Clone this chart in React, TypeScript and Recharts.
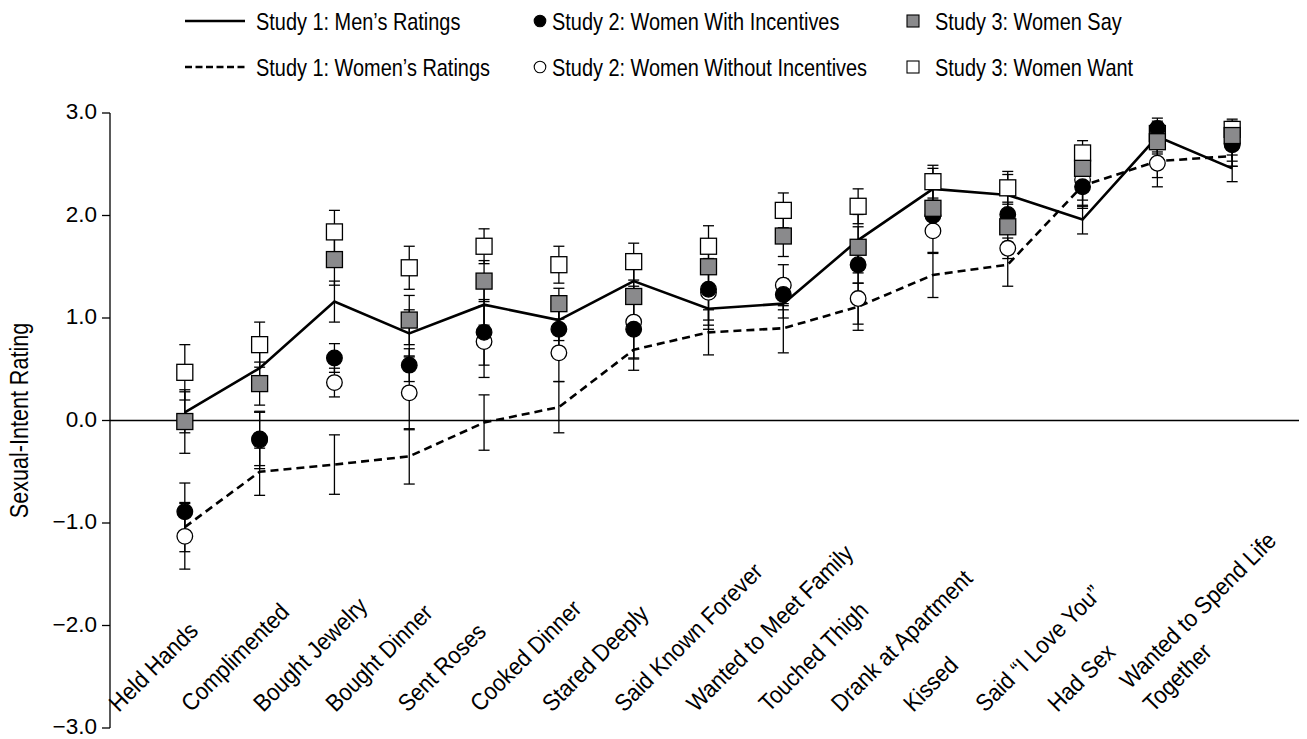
import React from "react";
import { ComposedChart, Line, XAxis, YAxis, ErrorBar, ReferenceLine } from "recharts";

// ---- data -------------------------------------------------------------
const categories = [
  "Held Hands",
  "Complimented",
  "Bought Jewelry",
  "Bought Dinner",
  "Sent Roses",
  "Cooked Dinner",
  "Stared Deeply",
  "Said Known Forever",
  "Wanted to Meet Family",
  "Touched Thigh",
  "Drank at Apartment",
  "Kissed",
  "Said \u201CI Love You\u201D",
  "Had Sex",
  "Wanted to Spend Life\nTogether",
];

// Study 1
const menRatings = [0.08, 0.51, 1.16, 0.85, 1.13, 0.98, 1.36, 1.09, 1.14, 1.76, 2.26, 2.2, 1.96, 2.77, 2.46];
const menErr = [0.2, 0.2, 0.2, 0.23, 0.2, 0.2, 0.15, 0.2, 0.14, 0.25, 0.2, 0.2, 0.14, 0.15, 0.13];
const womenRatings = [-1.04, -0.5, -0.43, -0.35, -0.02, 0.13, 0.69, 0.86, 0.9, 1.11, 1.42, 1.52, 2.29, 2.53, 2.58];
const womenErr = [0.24, 0.23, 0.29, 0.27, 0.27, 0.25, 0.2, 0.22, 0.24, 0.23, 0.22, 0.21, 0.22, 0.25, 0.1];

// Study 2
const withIncentives = [-0.89, -0.18, 0.61, 0.54, 0.86, 0.89, 0.89, 1.28, 1.23, 1.52, 2.0, 2.01, 2.28, 2.85, 2.69];
const withIncentivesErr = [0.28, 0.26, 0.14, 0.16, 0.32, 0.25, 0.29, 0.3, 0.15, 0.18, 0.15, 0.12, 0.19, 0.1, 0.16];
const withoutIncentives = [-1.13, -0.19, 0.37, 0.27, 0.77, 0.66, 0.96, 1.25, 1.32, 1.19, 1.85, 1.68, 2.35, 2.51, 2.7];
const withoutIncentivesErr = [0.32, 0.28, 0.14, 0.36, 0.35, 0.28, 0.35, 0.32, 0.2, 0.25, 0.22, 0.1, 0.2, 0.14, 0.22];

// Study 3
const womenSay = [-0.01, 0.36, 1.57, 0.98, 1.36, 1.14, 1.21, 1.5, 1.8, 1.69, 2.07, 1.89, 2.46, 2.72, 2.78];
const womenSayErr = [0.31, 0.21, 0.25, 0.24, 0.2, 0.15, 0.28, 0.2, 0.2, 0.2, 0.2, 0.15, 0.15, 0.12, 0.12];
const womenWant = [0.47, 0.74, 1.84, 1.49, 1.7, 1.52, 1.55, 1.7, 2.05, 2.09, 2.33, 2.27, 2.61, 2.8, 2.84];
const womenWantErr = [0.27, 0.22, 0.21, 0.21, 0.17, 0.18, 0.18, 0.2, 0.17, 0.17, 0.16, 0.16, 0.12, 0.1, 0.1];

const yTicks = [-3, -2, -1, 0, 1, 2, 3];

const legendNames = [
  "Study 1: Men\u2019s Ratings",
  "Study 1: Women\u2019s Ratings",
  "Study 2: Women With Incentives",
  "Study 2: Women Without Incentives",
  "Study 3: Women Say",
  "Study 3: Women Want",
];

const rows = categories.map((name, i) => ({
  x: i + 1,
  name,
  men: menRatings[i],
  menErr: menErr[i],
  women: womenRatings[i],
  womenErr: womenErr[i],
  withInc: withIncentives[i],
  withIncErr: withIncentivesErr[i],
  withoutInc: withoutIncentives[i],
  withoutIncErr: withoutIncentivesErr[i],
  say: womenSay[i],
  sayErr: womenSayErr[i],
  want: womenWant[i],
  wantErr: womenWantErr[i],
}));

// ---- styling ----------------------------------------------------------
const FONT = "'Liberation Sans', Arial, Helvetica, sans-serif";
const CHART_W = 1307;
const CHART_H = 739;
const GRAY = "#8a8a8c";
const CAP = 5.5;
const BAR_W = 1.3;
// horizontal squeeze that gives the condensed lettering
const NARROW = 0.83;
const LABEL_NARROW = 0.91;

const fmtTick = (v: number) => (v < 0 ? "\u2212" + Math.abs(v).toFixed(1) : v.toFixed(1));

const circleDot = (fill: string) => (p: any) => {
  const { cx, cy, index } = p;
  if (cx == null || cy == null) return <g key={`c-${fill}-${index}`} />;
  return <circle key={`c-${fill}-${index}`} cx={cx} cy={cy} r={7.8} fill={fill} stroke="#000" strokeWidth={1.3} />;
};

const squareDot = (fill: string) => (p: any) => {
  const { cx, cy, index } = p;
  if (cx == null || cy == null) return <g key={`s-${fill}-${index}`} />;
  return (
    <rect key={`s-${fill}-${index}`} x={cx - 8} y={cy - 8} width={16} height={16} fill={fill} stroke="#000" strokeWidth={1.3} />
  );
};

function CategoryTick(props: any) {
  const { x, y, payload } = props;
  const i = Math.round(payload.value) - 1;
  if (i < 0 || i >= categories.length) return null;
  const lines = categories[i].split("\n");
  const sx = x - 66 - 2.6 * i;
  const sy = y - 15 - (lines.length - 1) * 23;
  return (
    <g transform={`translate(${sx} ${sy}) rotate(-45) scale(${LABEL_NARROW} 1)`}>
      <text x={0} y={0} fontFamily={FONT} fontSize={24} fill="#000" textAnchor="start">
        {lines.map((t, k) => (
          <tspan key={k} x={0} dy={k === 0 ? 0 : 33}>
            {t}
          </tspan>
        ))}
      </text>
    </g>
  );
}

function ValueTick(props: any) {
  const { x, y, payload } = props;
  return (
    <text x={x} y={y} dy="0.28em" textAnchor="end" fontFamily={FONT} fontSize={22.5} fill="#000">
      {fmtTick(payload.value)}
    </text>
  );
}

const YTitle = (p: any) => {
  const vb = p.viewBox || { x: 0, y: 113, width: 110, height: 615 };
  const cx = vb.x + 28;
  const cy = vb.y + vb.height / 2;
  return (
    <g transform={`translate(${cx} ${cy}) rotate(-90) scale(${NARROW} 1)`}>
      <text x={0} y={0} textAnchor="middle" fontFamily={FONT} fontSize={26} fill="#000">
        Sexual-Intent Rating
      </text>
    </g>
  );
};

function LegendOverlay() {
  const rowY = [21, 67];
  const col = [
    { icon: 215, text: 256 },
    { icon: 540, text: 552 },
    { icon: 913, text: 935 },
  ];
  const icon = (k: number, x: number, y: number) => {
    switch (k) {
      case 0:
        return <line x1={x - 30} x2={x + 30} y1={y} y2={y} stroke="#000" strokeWidth={2.4} />;
      case 1:
        return <line x1={x - 30} x2={x + 30} y1={y} y2={y} stroke="#000" strokeWidth={2.4} strokeDasharray="7 3.5" />;
      case 2:
        return <circle cx={x} cy={y} r={5.8} fill="#000" stroke="#000" strokeWidth={1.1} />;
      case 3:
        return <circle cx={x} cy={y} r={5.8} fill="#fff" stroke="#000" strokeWidth={1.1} />;
      case 4:
        return <rect x={x - 6} y={y - 6} width={12} height={12} fill={GRAY} stroke="#000" strokeWidth={1.1} />;
      default:
        return <rect x={x - 6} y={y - 6} width={12} height={12} fill="#fff" stroke="#000" strokeWidth={1.1} />;
    }
  };
  return (
    <svg width={CHART_W} height={95} style={{ position: "absolute", left: 0, top: 0, pointerEvents: "none" }}>
      {legendNames.map((name, k) => {
        const c = col[Math.floor(k / 2)];
        const y = rowY[k % 2];
        return (
          <g key={name}>
            {icon(k, c.icon, y)}
            <g transform={`translate(${c.text} ${y}) scale(${NARROW} 1)`}>
              <text x={0} y={0} dy="0.36em" fontFamily={FONT} fontSize={24} fill="#000">
                {name}
              </text>
            </g>
          </g>
        );
      })}
    </svg>
  );
}

export default function App() {
  return (
    <div style={{ position: "relative", width: CHART_W, height: CHART_H, margin: "-8px 0 0 -8px", background: "#fff" }}>
      <ComposedChart width={CHART_W} height={CHART_H} data={rows} margin={{ top: 113, right: 0, bottom: 10, left: 0 }}>
        <XAxis
          type="number"
          dataKey="x"
          domain={[0, 16]}
          ticks={categories.map((_, i) => i + 1)}
          interval={0}
          axisLine={false}
          tickLine={false}
          tickSize={0}
          tickMargin={0}
          height={1}
          tick={<CategoryTick />}
          allowDataOverflow
        />
        <YAxis
          type="number"
          domain={[-3, 3]}
          ticks={yTicks}
          interval={0}
          width={110}
          tickSize={8}
          tickMargin={5}
          axisLine={{ stroke: "#000", strokeWidth: 1.3 }}
          tickLine={{ stroke: "#000", strokeWidth: 1.3 }}
          tick={<ValueTick />}
          label={<YTitle />}
        />
        <ReferenceLine y={0} stroke="#000" strokeWidth={1.3} />

        <Line dataKey="women" stroke="#000" strokeWidth={2.6} strokeDasharray="8 5" dot={false} activeDot={false} isAnimationActive={false}>
          <ErrorBar dataKey="womenErr" width={CAP} stroke="#000" strokeWidth={BAR_W} />
        </Line>
        <Line dataKey="men" stroke="#000" strokeWidth={2.6} dot={false} activeDot={false} isAnimationActive={false}>
          <ErrorBar dataKey="menErr" width={CAP} stroke="#000" strokeWidth={BAR_W} />
        </Line>
        <Line dataKey="withoutInc" stroke="none" dot={circleDot("#fff")} activeDot={false} isAnimationActive={false}>
          <ErrorBar dataKey="withoutIncErr" width={CAP} stroke="#000" strokeWidth={BAR_W} />
        </Line>
        <Line dataKey="want" stroke="none" dot={squareDot("#fff")} activeDot={false} isAnimationActive={false}>
          <ErrorBar dataKey="wantErr" width={CAP} stroke="#000" strokeWidth={BAR_W} />
        </Line>
        <Line dataKey="withInc" stroke="none" dot={circleDot("#000")} activeDot={false} isAnimationActive={false}>
          <ErrorBar dataKey="withIncErr" width={CAP} stroke="#000" strokeWidth={BAR_W} />
        </Line>
        <Line dataKey="say" stroke="none" dot={squareDot(GRAY)} activeDot={false} isAnimationActive={false}>
          <ErrorBar dataKey="sayErr" width={CAP} stroke="#000" strokeWidth={BAR_W} />
        </Line>
      </ComposedChart>
      <LegendOverlay />
    </div>
  );
}
